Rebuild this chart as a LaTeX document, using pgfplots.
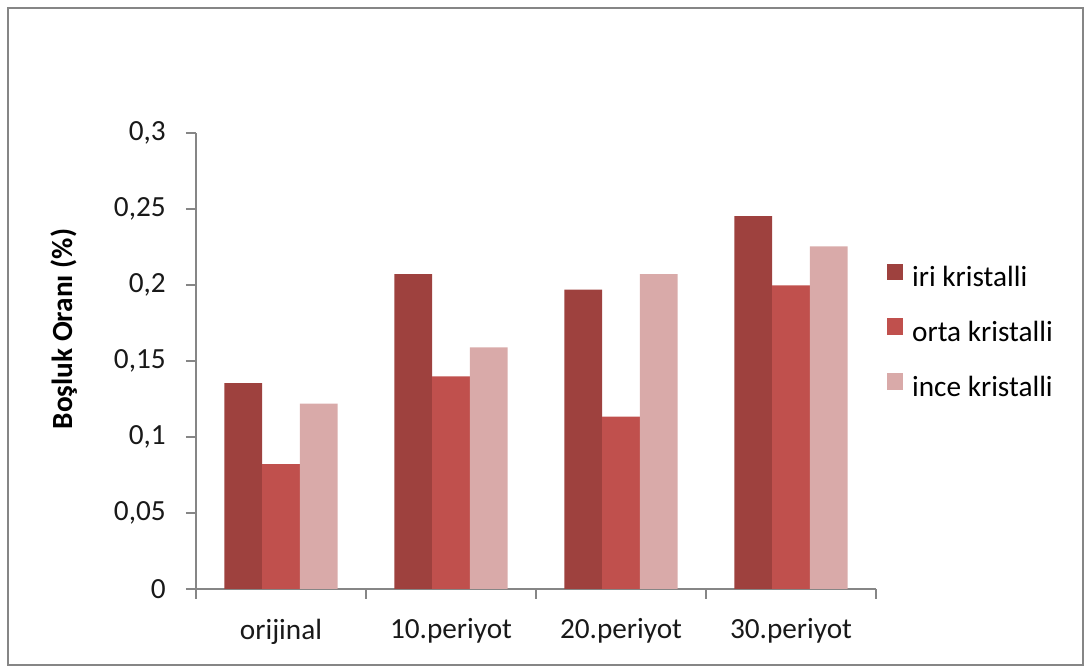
\documentclass[border=0pt]{standalone}
\usepackage{pgfplots}
\pgfplotsset{compat=1.18}
\usepackage{fontspec}
\setmainfont{Carlito}
\definecolor{iri}{HTML}{9E413E}
\definecolor{orta}{HTML}{C0504D}
\definecolor{ince}{HTML}{D9AAA9}
\definecolor{axgray}{HTML}{868686}
\begin{document}
\fontsize{11.7}{14}\selectfont
\begin{tikzpicture}
\path (0,0) rectangle (434.4pt,266.4pt);
\draw[axgray,line width=0.8pt] (3.2pt,0.4pt) rectangle (433.2pt,263.2pt);
\begin{axis}[
  at={(78.4pt,30.8pt)}, anchor=south west,
  scale only axis, width=272pt, height=182.4pt,
  xmin=-0.5, xmax=3.5, ymin=0, ymax=0.3,
  axis x line=bottom, axis y line=left,
  axis line style={-, axgray, line width=0.6pt},
  tick style={axgray, line width=0.6pt},
  tick align=outside, major tick length=4pt,
  xtick={-0.5,0.5,1.5,2.5,3.5},
  x tick label as interval,
  xticklabels={orijinal,10.periyot,20.periyot,30.periyot},
  ytick={0,0.05,0.1,0.15,0.2,0.25,0.3},
  yticklabels={0,{0,05},{0,1},{0,15},{0,2},{0,25},{0,3}},
  ticklabel style={font=\fontsize{11.7}{14}\selectfont, text=black!90},
  xticklabel style={yshift=-3.8pt},
  yticklabel style={xshift=-4pt},
  ylabel={Boşluk Oranı (\%)},
  every axis y label/.style={at={(axis description cs:-0.194,0.57)}, rotate=90, anchor=center, font=\fontsize{11.7}{14}\selectfont\bfseries},
  ybar, bar width=0.2222,
  legend style={at={(axis description cs:1.0157,0.5600)}, anchor=west, draw=none, fill=none, inner sep=0pt, row sep=8pt, font=\fontsize{11.7}{14}\selectfont,
    /tikz/every odd column/.append style={column sep=1.8pt}},
  legend cell align=left,
  legend image code/.code={\fill[#1] (0pt,-0.05em) rectangle (6.2pt,6.15pt);},
]
\addplot[fill=iri, draw=none, bar shift=-0.2222] coordinates {(0,0.1354) (1,0.2072) (2,0.197) (3,0.2453)};
\addplot[fill=orta, draw=none, bar shift=0] coordinates {(0,0.0821) (1,0.1398) (2,0.1134) (3,0.1997)};
\addplot[fill=ince, draw=none, bar shift=0.2222] coordinates {(0,0.122) (1,0.1589) (2,0.2072) (3,0.2254)};
\legend{iri kristalli, orta kristalli, ince kristalli}
\end{axis}
\end{tikzpicture}
\end{document}
